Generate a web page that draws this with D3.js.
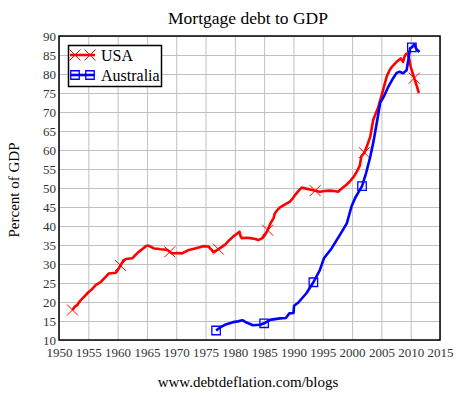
<!DOCTYPE html>
<html>
<head>
<meta charset="utf-8">
<script src="https://cdn.jsdelivr.net/npm/d3@7"></script>
<style>
  body { margin: 0; background: #fff; }
  svg { display: block; font-family: "Liberation Serif", "DejaVu Serif", serif; }
  .grid line { stroke: #c0c0c0; stroke-width: 1; }
  .grid path { stroke: none; }
  .line { fill: none; stroke-width: 2.6; stroke-linejoin: round; }
</style>
</head>
<body>
<div id="graphic"></div>
<script>
const WIDTH = 461;
const HEIGHT = 393;
const LEFT = 59;
const RIGHT = 440;
const TOP = 36;
const BOTTOM = 340;
const SERIF = "'Liberation Serif', 'DejaVu Serif', serif";

const X_TICKS = [1950, 1955, 1960, 1965, 1970, 1975, 1980, 1985, 1990, 1995, 2000, 2005, 2010, 2015];
const Y_TICKS = [10, 15, 20, 25, 30, 35, 40, 45, 50, 55, 60, 65, 70, 75, 80, 85, 90];

const USA_YEARS = [1952.3, 1952.7, 1953.1, 1953.6, 1954.3, 1955.1, 1955.6, 1956.3, 1957.1, 1958.0,
  1958.5, 1959.7, 1960.0, 1960.5, 1961.0, 1961.4, 1962.5, 1963.0, 1963.6, 1964.3,
  1964.9, 1965.3, 1966.2, 1966.8, 1967.3, 1968.0, 1968.5, 1968.9, 1969.3, 1970.2,
  1971.0, 1972.0, 1973.2, 1974.0, 1974.6, 1975.5, 1976.0, 1976.3, 1976.7, 1977.2,
  1978.3, 1979.0, 1979.7, 1980.3, 1980.8, 1981.0, 1981.2, 1982.0, 1982.6, 1983.5,
  1984.0, 1984.7, 1985.2, 1985.6, 1986.1, 1986.6, 1986.8, 1987.2, 1987.7, 1988.5,
  1989.4, 1989.9, 1990.3, 1990.9, 1991.4, 1992.0, 1992.8, 1993.7, 1994.5, 1995.3,
  1996.2, 1997.0, 1997.6, 1998.5, 1999.0, 1999.6, 2000.3, 2000.8, 2001.3, 2001.6,
  2002.1, 2002.6, 2003.1, 2003.6, 2004.0, 2004.5, 2005.3, 2005.9, 2006.4, 2006.8,
  2007.6, 2008.3, 2008.7, 2009.0, 2009.3, 2009.5, 2009.8, 2010.0, 2010.6, 2011.0, 2011.4];
const USA_VALUES = [17.9, 18.8, 19.2, 20.3, 21.4, 22.7, 23.3, 24.5, 25.2, 26.7,
  27.5, 27.7, 28.3, 29.6, 31.0, 31.3, 31.5, 32.3, 33.2, 34.0,
  34.8, 34.8, 34.1, 34.0, 33.9, 33.8, 33.7, 33.2, 32.8, 32.9,
  32.8, 33.6, 34.1, 34.4, 34.7, 34.6, 33.8, 33.2, 33.4, 33.9,
  35.0, 36.2, 37.2, 37.9, 38.5, 37.2, 36.8, 36.9, 36.8, 36.6,
  36.3, 36.8, 37.8, 38.9, 40.8, 42.0, 43.3, 44.1, 44.9, 45.6,
  46.4, 47.3, 48.2, 49.3, 50.1, 49.9, 49.6, 49.3, 49.0, 49.2,
  49.3, 49.2, 49.0, 50.2, 50.8, 51.7, 53.0, 54.3, 55.8, 58.4,
  59.3, 61.3, 63.5, 67.9, 69.5, 71.4, 75.8, 79.3, 81.0, 81.9,
  83.2, 84.1, 83.2, 84.8, 85.4, 85.4, 83.6, 81.9, 78.9, 77.0, 75.0];
const USA_MARKERS = [1952.3, 1960.5, 1968.9, 1977.2, 1985.6, 1993.7, 2002.1, 2010.6];

const AUS_YEARS = [1976.8, 1977.5, 1978.3, 1979.7, 1980.5, 1981.3, 1982.0, 1983.1, 1984.3, 1985.0,
  1986.0, 1987.7, 1988.7, 1989.3, 1990.0, 1990.1, 1990.8, 1992.2, 1993.4, 1994.5,
  1995.2, 1996.5, 1997.9, 1999.1, 1999.9, 2000.5, 2001.2, 2001.7, 2002.4, 2003.1,
  2003.7, 2004.3, 2004.8, 2005.4, 2006.2, 2007.0, 2007.6, 2008.1, 2008.7, 2009.3,
  2009.6, 2009.9, 2010.2, 2010.6, 2011.0, 2011.5];
const AUS_VALUES = [12.5, 13.3, 14.0, 14.7, 14.9, 15.2, 14.6, 13.9, 14.0, 14.4,
  15.3, 15.7, 15.8, 17.0, 17.1, 19.0, 19.8, 22.3, 25.2, 28.4,
  31.5, 34.1, 37.6, 40.7, 45.1, 47.3, 49.2, 50.5, 54.0, 58.2,
  62.6, 67.9, 72.5, 74.0, 76.7, 78.9, 80.3, 80.6, 80.2, 81.0,
  83.7, 86.8, 87.0, 87.8, 86.5, 85.8];
const AUS_MARKERS = [1976.8, 1985.0, 1993.4, 2001.7, 2010.2];

const SERIES = [
  { name: "USA", color: "#ff0000", marker: "x", years: USA_YEARS, values: USA_VALUES, markers: USA_MARKERS },
  { name: "Australia", color: "#0000ff", marker: "square", years: AUS_YEARS, values: AUS_VALUES, markers: AUS_MARKERS }
];

var svg = d3.select("#graphic")
  .append("svg")
  .attr("width", WIDTH)
  .attr("height", HEIGHT);

var xScale = d3.scaleLinear().domain([1950, 2015]).range([LEFT, RIGHT]);
var yScale = d3.scaleLinear().domain([10, 90]).range([BOTTOM, TOP]);

// grid
svg.append("g")
  .attr("class", "grid")
  .attr("transform", `translate(0, ${BOTTOM})`)
  .call(d3.axisBottom(xScale).tickValues(X_TICKS).tickSize(-(BOTTOM - TOP)).tickFormat(""));
svg.append("g")
  .attr("class", "grid")
  .attr("transform", `translate(${LEFT}, 0)`)
  .call(d3.axisLeft(yScale).tickValues(Y_TICKS).tickSize(-(RIGHT - LEFT)).tickFormat(""));

// frame
svg.append("rect")
  .attr("x", LEFT)
  .attr("y", TOP)
  .attr("width", RIGHT - LEFT)
  .attr("height", BOTTOM - TOP)
  .attr("fill", "none")
  .attr("stroke", "#000")
  .attr("stroke-width", 1.5);

// axis labels
var xAxis = svg.append("g")
  .attr("class", "axis")
  .attr("transform", `translate(0, ${BOTTOM})`)
  .call(d3.axisBottom(xScale).tickValues(X_TICKS).tickSize(0).tickPadding(8).tickFormat(d3.format("d")));
var yAxis = svg.append("g")
  .attr("class", "axis")
  .attr("transform", `translate(${LEFT}, 0)`)
  .call(d3.axisLeft(yScale).tickValues(Y_TICKS).tickSize(0).tickPadding(3).tickFormat(d3.format("d")));
svg.selectAll(".axis path").remove();
svg.selectAll(".axis")
  .attr("font-family", SERIF)
  .attr("font-size", 13);
svg.selectAll(".axis text")
  .style("font-family", SERIF)
  .style("font-size", "13px")
  .attr("fill", "#333");

function xMarkPath(cx, cy, r) {
  return `M${cx - r},${cy - r}L${cx + r},${cy + r}M${cx - r},${cy + r}L${cx + r},${cy - r}`;
}

function drawMarker(g, kind, color, cx, cy) {
  if (kind == "x") {
    g.append("path")
      .attr("d", xMarkPath(cx, cy, 5.5))
      .attr("stroke", color)
      .attr("stroke-width", 1)
      .attr("fill", "none");
  } else {
    g.append("path")
      .attr("transform", `translate(${cx}, ${cy})`)
      .attr("d", d3.symbol(d3.symbolSquare).size(72)())
      .attr("stroke", color)
      .attr("stroke-width", 1.3)
      .attr("fill", "none");
  }
}

var line = d3.line()
  .x(d => xScale(d.year))
  .y(d => yScale(d.value));

SERIES.forEach(s => {
  var points = s.years.map((y, i) => ({ year: y, value: s.values[i] }));
  svg.append("path")
    .datum(points)
    .attr("class", "line")
    .attr("stroke", s.color)
    .attr("d", line);
  var mg = svg.append("g");
  s.markers.forEach(m => {
    var p = points.reduce((a, b) => Math.abs(b.year - m) < Math.abs(a.year - m) ? b : a);
    drawMarker(mg, s.marker, s.color, xScale(p.year), yScale(p.value));
  });
});

// legend
var legend = svg.append("g");
legend.append("rect")
  .attr("x", 68.5)
  .attr("y", 45.5)
  .attr("width", 93)
  .attr("height", 41)
  .attr("fill", "#fff")
  .attr("stroke", "#000")
  .attr("stroke-width", 1.5);
SERIES.forEach((s, i) => {
  var ly = 55 + i * 20;
  legend.append("line")
    .attr("x1", 70).attr("x2", 95)
    .attr("y1", ly).attr("y2", ly)
    .attr("stroke", s.color)
    .attr("stroke-width", 2.6);
  drawMarker(legend, s.marker, s.color, 75, ly);
  drawMarker(legend, s.marker, s.color, 90, ly);
  legend.append("text")
    .attr("x", 101)
    .attr("y", ly + 6)
    .attr("font-size", 16)
    .attr("fill", "#000")
    .text(s.name);
});

// titles
svg.append("text")
  .attr("x", 248)
  .attr("y", 24)
  .attr("text-anchor", "middle")
  .attr("font-size", 17.5)
  .text("Mortgage debt to GDP");
svg.append("text")
  .attr("transform", `translate(19, 190) rotate(-90)`)
  .attr("text-anchor", "middle")
  .attr("font-size", 15)
  .text("Percent of GDP");
svg.append("text")
  .attr("x", 248)
  .attr("y", 387)
  .attr("text-anchor", "middle")
  .attr("font-size", 15)
  .text("www.debtdeflation.com/blogs");
</script>
</body>
</html>
